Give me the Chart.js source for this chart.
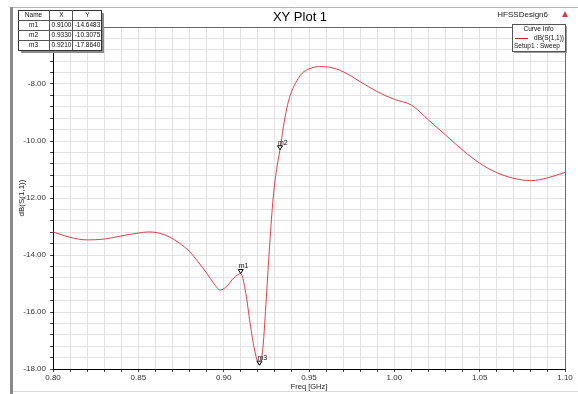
<!DOCTYPE html>
<html>
<head>
<meta charset="utf-8">
<script src="https://cdn.jsdelivr.net/npm/chart.js@4/dist/chart.umd.min.js"></script>
<style>
  html, body { margin: 0; padding: 0; background: #ffffff; }
  #wrap { width: 578px; height: 394px; position: relative; }
</style>
</head>
<body>
<div id="wrap"><canvas id="c"></canvas></div>
<script>
// ---- data ----
const freqGHz = [0.800,0.810,0.820,0.830,0.840,0.850,0.856,0.862,0.868,0.874,0.880,0.885,0.890,0.894,0.898,0.902,0.906,0.910,0.913,0.9155,0.918,0.921,0.923,0.925,0.927,0.929,0.931,0.933,0.935,0.937,0.939,0.942,0.946,0.950,0.956,0.962,0.970,0.980,0.990,1.000,1.010,1.020,1.030,1.040,1.050,1.060,1.070,1.080,1.090,1.100];
const s11dB = [-13.19,-13.38,-13.47,-13.44,-13.33,-13.23,-13.19,-13.23,-13.36,-13.58,-13.88,-14.24,-14.63,-14.98,-15.23,-15.09,-14.80,-14.65,-15.35,-16.40,-17.30,-17.86,-17.25,-15.50,-13.60,-12.00,-11.00,-10.31,-9.50,-8.85,-8.40,-7.98,-7.62,-7.47,-7.39,-7.41,-7.57,-7.92,-8.27,-8.54,-8.74,-9.26,-9.79,-10.32,-10.78,-11.11,-11.31,-11.39,-11.29,-11.10];

const markerNames  = ['m1', 'm2', 'm3'];
const markerFreqs  = [0.9100, 0.9330, 0.9210];
const markerValues = [-14.6483, -10.3075, -17.8640];

const xMajorLabels = [0.80, 0.85, 0.90, 0.95, 1.00, 1.05, 1.10];
const yMajorLabels = [-8, -10, -12, -14, -16, -18];

const FONT = "'Liberation Sans', Arial, sans-serif";

const points = freqGHz.map((f, i) => ({ x: f, y: s11dB[i] }));

const decorPlugin = {
  id: 'decor',
  beforeDraw(chart) {
    const ctx = chart.ctx;
    ctx.save();
    ctx.fillStyle = '#ffffff';
    ctx.fillRect(0, 0, chart.width, chart.height);
    ctx.restore();
  },
  afterDraw(chart) {
    const ctx = chart.ctx;
    const xs = chart.scales.x, ys = chart.scales.y;
    const area = chart.chartArea;
    ctx.save();

    // outer frame
    ctx.fillStyle = '#8a8a8a';
    ctx.fillRect(10, 7, 3, 387);
    ctx.strokeStyle = '#b5b5b5';
    ctx.lineWidth = 1;
    ctx.beginPath();
    ctx.moveTo(13, 7.5); ctx.lineTo(578, 7.5);
    ctx.stroke();
    ctx.strokeStyle = '#d8d8d8';
    ctx.beginPath();
    ctx.moveTo(13, 391.5); ctx.lineTo(578, 391.5);
    ctx.stroke();

    // plot top / right border
    ctx.strokeStyle = '#6a6a6a';
    ctx.beginPath();
    ctx.moveTo(area.left, area.top + 0.5); ctx.lineTo(area.right + 0.5, area.top + 0.5);
    ctx.lineTo(area.right + 0.5, area.bottom);
    ctx.stroke();

    // title
    ctx.fillStyle = '#000000';
    ctx.font = '13px ' + FONT;
    ctx.textAlign = 'center';
    ctx.textBaseline = 'middle';
    ctx.fillText('XY Plot 1', 300, 17);

    ctx.font = '8px ' + FONT;
    ctx.textAlign = 'right';
    ctx.fillStyle = '#222222';
    ctx.fillText('HFSSDesign6', 548, 15);

    // small red triangle
    ctx.fillStyle = '#d04040';
    ctx.beginPath();
    ctx.moveTo(565, 11); ctx.lineTo(568, 17); ctx.lineTo(562, 17); ctx.closePath();
    ctx.fill();

    // marker table (top-left)
    const tx = 18, ty = 10, tw = 83, rowH = [10, 10, 10, 10];
    const th = rowH.reduce((a, b) => a + b, 0);
    ctx.fillStyle = '#8c8c8c';
    ctx.fillRect(tx + 3, ty + 3, tw, th);
    ctx.fillStyle = '#ffffff';
    ctx.fillRect(tx, ty, tw, th);
    ctx.strokeStyle = '#333333';
    ctx.strokeRect(tx + 0.5, ty + 0.5, tw, th);
    const colX = [tx, tx + 31, tx + 54, tx + tw];
    ctx.strokeStyle = '#555555';
    ctx.beginPath();
    ctx.moveTo(colX[1] + 0.5, ty); ctx.lineTo(colX[1] + 0.5, ty + th);
    ctx.moveTo(colX[2] + 0.5, ty); ctx.lineTo(colX[2] + 0.5, ty + th);
    let yy = ty;
    for (let r = 0; r < rowH.length - 1; r++) {
      yy += rowH[r];
      ctx.moveTo(tx, yy + 0.5); ctx.lineTo(tx + tw, yy + 0.5);
    }
    ctx.stroke();
    ctx.fillStyle = '#111111';
    ctx.font = '6.5px ' + FONT;
    ctx.textAlign = 'center';
    ctx.textBaseline = 'middle';
    const centers = [(colX[0] + colX[1]) / 2, (colX[1] + colX[2]) / 2 + 1, (colX[2] + colX[3]) / 2 + 1];
    ctx.fillText('Name', centers[0], ty + 5.5);
    ctx.fillText('X', centers[1], ty + 5.5);
    ctx.fillText('Y', centers[2], ty + 5.5);
    for (let i = 0; i < markerNames.length; i++) {
      const cy = ty + 10 * (i + 1) + 5.5;
      ctx.fillText(markerNames[i], centers[0], cy);
      ctx.fillText(markerFreqs[i].toFixed(4), centers[1], cy);
      ctx.fillText(markerValues[i].toFixed(4), centers[2], cy);
    }

    // Curve Info box (top-right)
    const bx = 512, by = 24, bw = 53, bh = 27;
    ctx.fillStyle = '#9a9a9a';
    ctx.fillRect(bx + 2, by + 2, bw, bh);
    ctx.fillStyle = '#ffffff';
    ctx.fillRect(bx, by, bw, bh);
    ctx.strokeStyle = '#555555';
    ctx.strokeRect(bx + 0.5, by + 0.5, bw, bh);
    ctx.fillStyle = '#111111';
    ctx.font = '6.5px ' + FONT;
    ctx.textAlign = 'center';
    ctx.fillText('Curve Info', bx + bw / 2, by + 5);
    ctx.strokeStyle = '#c02030';
    ctx.beginPath();
    ctx.moveTo(bx + 3, by + 14.5); ctx.lineTo(bx + 16, by + 14.5);
    ctx.stroke();
    ctx.textAlign = 'right';
    ctx.fillText('dB(S(1,1))', bx + bw - 1, by + 14);
    ctx.textAlign = 'left';
    ctx.fillText('Setup1 : Sweep', bx + 2, by + 22);

    // markers
    for (let i = 0; i < markerNames.length; i++) {
      const px = xs.getPixelForValue(markerFreqs[i]);
      const py = ys.getPixelForValue(markerValues[i]);
      ctx.strokeStyle = '#000000';
      ctx.fillStyle = '#ffffff';
      ctx.lineWidth = 1;
      ctx.beginPath();
      ctx.moveTo(px, py); ctx.lineTo(px - 2.5, py - 4); ctx.lineTo(px + 2.5, py - 4); ctx.closePath();
      ctx.fill(); ctx.stroke();
      ctx.fillStyle = '#111111';
      ctx.font = '7px ' + FONT;
      ctx.textAlign = 'left';
      ctx.textBaseline = 'alphabetic';
      ctx.fillText(markerNames[i], px - 2, py - 5);
    }
    ctx.restore();
  }
};

new Chart(document.getElementById('c'), {
  type: 'line',
  data: {
    datasets: [{
      label: 'dB(S(1,1))',
      data: points,
      borderColor: '#e0404a',
      borderWidth: 1,
      pointRadius: 0,
      fill: false,
      cubicInterpolationMode: 'monotone'
    }]
  },
  options: {
    responsive: true,
    maintainAspectRatio: false,
    animation: false,
    layout: { padding: { top: 27, right: 13, left: 0, bottom: 0 } },
    plugins: { legend: { display: false }, tooltip: { enabled: false }, title: { display: false } },
    scales: {
      x: {
        type: 'linear',
        min: 0.8, max: 1.1,
        afterFit(scale) { scale.height = 25; },
        ticks: {
          stepSize: 0.01,
          autoSkip: false,
          maxRotation: 0,
          padding: 1,
          color: '#333333',
          font: { family: FONT, size: 8 },
          callback(v) {
            return xMajorLabels.some(m => Math.abs(m - v) < 1e-6) ? Number(v).toFixed(2) : '';
          }
        },
        grid: { color: '#e2e2e2', tickColor: '#444444', tickLength: 3, lineWidth: 1 },
        border: { color: '#000000', width: 1 },
        title: { display: true, text: 'Freq [GHz]', color: '#222222', font: { family: FONT, size: 7.5 }, padding: { top: 0, bottom: 3 } }
      },
      y: {
        type: 'linear',
        min: -18, max: -6,
        afterFit(scale) { scale.width = 53; },
        ticks: {
          stepSize: 0.4,
          autoSkip: false,
          padding: 4,
          color: '#333333',
          font: { family: FONT, size: 8 },
          callback(v) {
            return yMajorLabels.some(m => Math.abs(m - v) < 1e-6) ? Number(v).toFixed(2) : '';
          }
        },
        grid: { color: '#e2e2e2', tickColor: '#444444', tickLength: 3, lineWidth: 1 },
        border: { color: '#000000', width: 1 },
        title: { display: true, text: 'dB(S(1,1))', color: '#222222', font: { family: FONT, size: 8 }, padding: { top: 17, bottom: 0 } }
      }
    }
  },
  plugins: [decorPlugin]
});
</script>
</body>
</html>
